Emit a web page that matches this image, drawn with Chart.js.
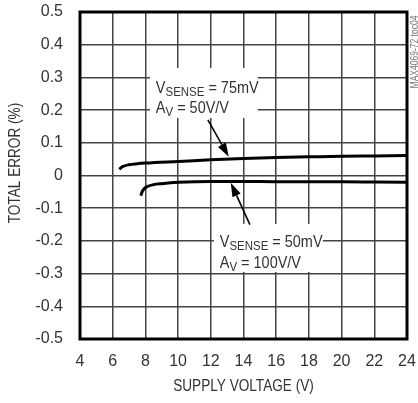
<!DOCTYPE html>
<html>
<head>
<meta charset="utf-8">
<script src="https://cdn.jsdelivr.net/npm/chart.js@4/dist/chart.umd.min.js"></script>
<style>
  html, body { margin: 0; padding: 0; background: #fff; }
  #wrap { width: 418px; height: 403px; }
</style>
</head>
<body>
<div id="wrap"><canvas id="c" width="418" height="403"></canvas></div>
<script>
// values
var xTicks = [4, 6, 8, 10, 12, 14, 16, 18, 20, 22, 24];
var yTicks = [-0.5, -0.4, -0.3, -0.2, -0.1, 0, 0.1, 0.2, 0.3, 0.4, 0.5];

// VSENSE = 75mV, AV = 50V/V
var supply75 = [6.4, 6.6, 7.0, 7.5, 8, 10, 12, 14, 16, 18, 20, 22, 24];
var error75 = [0.019, 0.027, 0.033, 0.036, 0.038, 0.043, 0.048, 0.052, 0.055, 0.057, 0.059, 0.060, 0.061];

// VSENSE = 50mV, AV = 100V/V
var supply50 = [7.72, 7.8, 7.9, 8.1, 8.5, 9, 10, 12, 14, 16, 18, 20, 22, 24];
var error50 = [-0.062, -0.050, -0.042, -0.034, -0.028, -0.025, -0.021, -0.018, -0.018, -0.019, -0.019, -0.019, -0.020, -0.021];

var FONT = "'Liberation Sans', Arial, sans-serif";
var INK = '#333';
var SQUEEZE = 0.85; // reference uses a condensed face

// callouts, placed in data units
var notes = [
  { box: [8.28, 14.87, 0.329, 0.176], x: 8.64, y1: 0.252, y2: 0.191,
    sense: '75mV', gain: '50V/V', from: [11.82, 0.170], to: [13.10, 0.057] },
  { box: [12.19, 18.85, -0.148, -0.295], x: 12.55, y1: -0.219, y2: -0.283,
    sense: '50mV', gain: '100V/V', from: [14.39, -0.150], to: [13.22, -0.022] }
];

function pts(xs, ys) {
  return xs.map(function (v, i) { return { x: v, y: ys[i] }; });
}

// condensed text: draws at (x, y) squeezed horizontally
function narrow(ctx, str, x, y, size, align) {
  ctx.save();
  ctx.font = size + 'px ' + FONT;
  ctx.translate(x, y);
  ctx.scale(SQUEEZE, 1);
  ctx.textAlign = align || 'left';
  ctx.fillText(str, 0, 0);
  var w = ctx.measureText(str).width * SQUEEZE;
  ctx.restore();
  return w;
}

function subText(ctx, x, y, big, small, rest) {
  x += narrow(ctx, big, x, y, 17);
  x += narrow(ctx, small, x, y + 3, 13.5);
  narrow(ctx, rest, x, y, 17);
}

var calloutPlugin = {
  id: 'callouts',
  beforeDatasetsDraw: function (chart) {
    var ctx = chart.ctx, xs = chart.scales.x, ys = chart.scales.y;
    ctx.save();
    ctx.fillStyle = '#fff';
    notes.forEach(function (n) {
      var l = xs.getPixelForValue(n.box[0]), r = xs.getPixelForValue(n.box[1]);
      var t = ys.getPixelForValue(n.box[2]), b = ys.getPixelForValue(n.box[3]);
      ctx.fillRect(l, t, r - l, b - t);
    });
    ctx.restore();
  },
  afterDatasetsDraw: function (chart) {
    var ctx = chart.ctx, xs = chart.scales.x, ys = chart.scales.y;
    ctx.save();
    ctx.textBaseline = 'alphabetic';
    notes.forEach(function (n) {
      var tx = xs.getPixelForValue(n.x);
      ctx.fillStyle = INK;
      subText(ctx, tx, ys.getPixelForValue(n.y1), 'V', 'SENSE', ' = ' + n.sense);
      subText(ctx, tx, ys.getPixelForValue(n.y2), 'A', 'V', ' = ' + n.gain);
      // arrow
      var x0 = xs.getPixelForValue(n.from[0]), y0 = ys.getPixelForValue(n.from[1]);
      var x1 = xs.getPixelForValue(n.to[0]), y1 = ys.getPixelForValue(n.to[1]);
      var a = Math.atan2(y1 - y0, x1 - x0), len = 14, hw = 4.5;
      ctx.strokeStyle = '#000';
      ctx.lineWidth = 1.6;
      ctx.beginPath();
      ctx.moveTo(x0, y0);
      ctx.lineTo(x1 - Math.cos(a) * len, y1 - Math.sin(a) * len);
      ctx.stroke();
      ctx.fillStyle = '#000';
      ctx.beginPath();
      ctx.moveTo(x1, y1);
      ctx.lineTo(x1 - Math.cos(a) * len - Math.sin(a) * hw, y1 - Math.sin(a) * len + Math.cos(a) * hw);
      ctx.lineTo(x1 - Math.cos(a) * len + Math.sin(a) * hw, y1 - Math.sin(a) * len - Math.cos(a) * hw);
      ctx.closePath();
      ctx.fill();
    });
    ctx.restore();
  },
  afterDraw: function (chart) {
    var ctx = chart.ctx, a = chart.chartArea;
    ctx.save();
    ctx.strokeStyle = '#000';
    ctx.lineWidth = 3;
    ctx.strokeRect(a.left, a.top, a.right - a.left, a.bottom - a.top);

    // axis titles
    ctx.fillStyle = INK;
    ctx.textBaseline = 'middle';
    narrow(ctx, 'SUPPLY VOLTAGE (V)', (a.left + a.right) / 2, 387, 16, 'center');
    ctx.save();
    ctx.translate(16, 163);
    ctx.rotate(-Math.PI / 2);
    narrow(ctx, 'TOTAL ERROR (%)', 0, 0, 16, 'center');
    ctx.restore();

    // figure id down the right edge
    ctx.translate(415, 52);
    ctx.rotate(-Math.PI / 2);
    ctx.fillStyle = '#777';
    narrow(ctx, 'MAX4069-72 toc04', 0, 0, 10, 'center');
    ctx.restore();
  }
};

new Chart(document.getElementById('c'), {
  type: 'scatter',
  data: {
    datasets: [
      { label: 'VSENSE = 75mV', data: pts(supply75, error75), showLine: true,
        borderColor: '#000', borderWidth: 3, pointRadius: 0, cubicInterpolationMode: 'monotone' },
      { label: 'VSENSE = 50mV', data: pts(supply50, error50), showLine: true,
        borderColor: '#000', borderWidth: 3, pointRadius: 0, cubicInterpolationMode: 'monotone' }
    ]
  },
  options: {
    responsive: false,
    animation: false,
    devicePixelRatio: 1,
    layout: { padding: { left: 0, top: 12, right: 11, bottom: 0 } },
    plugins: { legend: { display: false }, tooltip: { enabled: false } },
    scales: {
      x: {
        type: 'linear', min: 4, max: 24,
        afterBuildTicks: function (s) { s.ticks = xTicks.map(function (v) { return { value: v }; }); },
        afterFit: function (s) { s.height = 64; s.paddingLeft = 0; s.paddingRight = 0; },
        grid: { color: '#444', lineWidth: 1.5, drawTicks: false },
        border: { display: false },
        ticks: { color: INK, padding: 13, maxRotation: 0, font: { family: FONT, size: 16 } }
      },
      y: {
        type: 'linear', min: -0.5, max: 0.5,
        afterBuildTicks: function (s) { s.ticks = yTicks.map(function (v) { return { value: v }; }); },
        afterFit: function (s) { s.width = 80; s.paddingTop = 0; s.paddingBottom = 0; },
        grid: { color: '#444', lineWidth: 1.5, drawTicks: false },
        border: { display: false },
        ticks: { color: INK, padding: 17, font: { family: FONT, size: 16 },
          callback: function (v) { return String(Math.round(v * 10) / 10); } }
      }
    }
  },
  plugins: [calloutPlugin]
});
</script>
</body>
</html>
